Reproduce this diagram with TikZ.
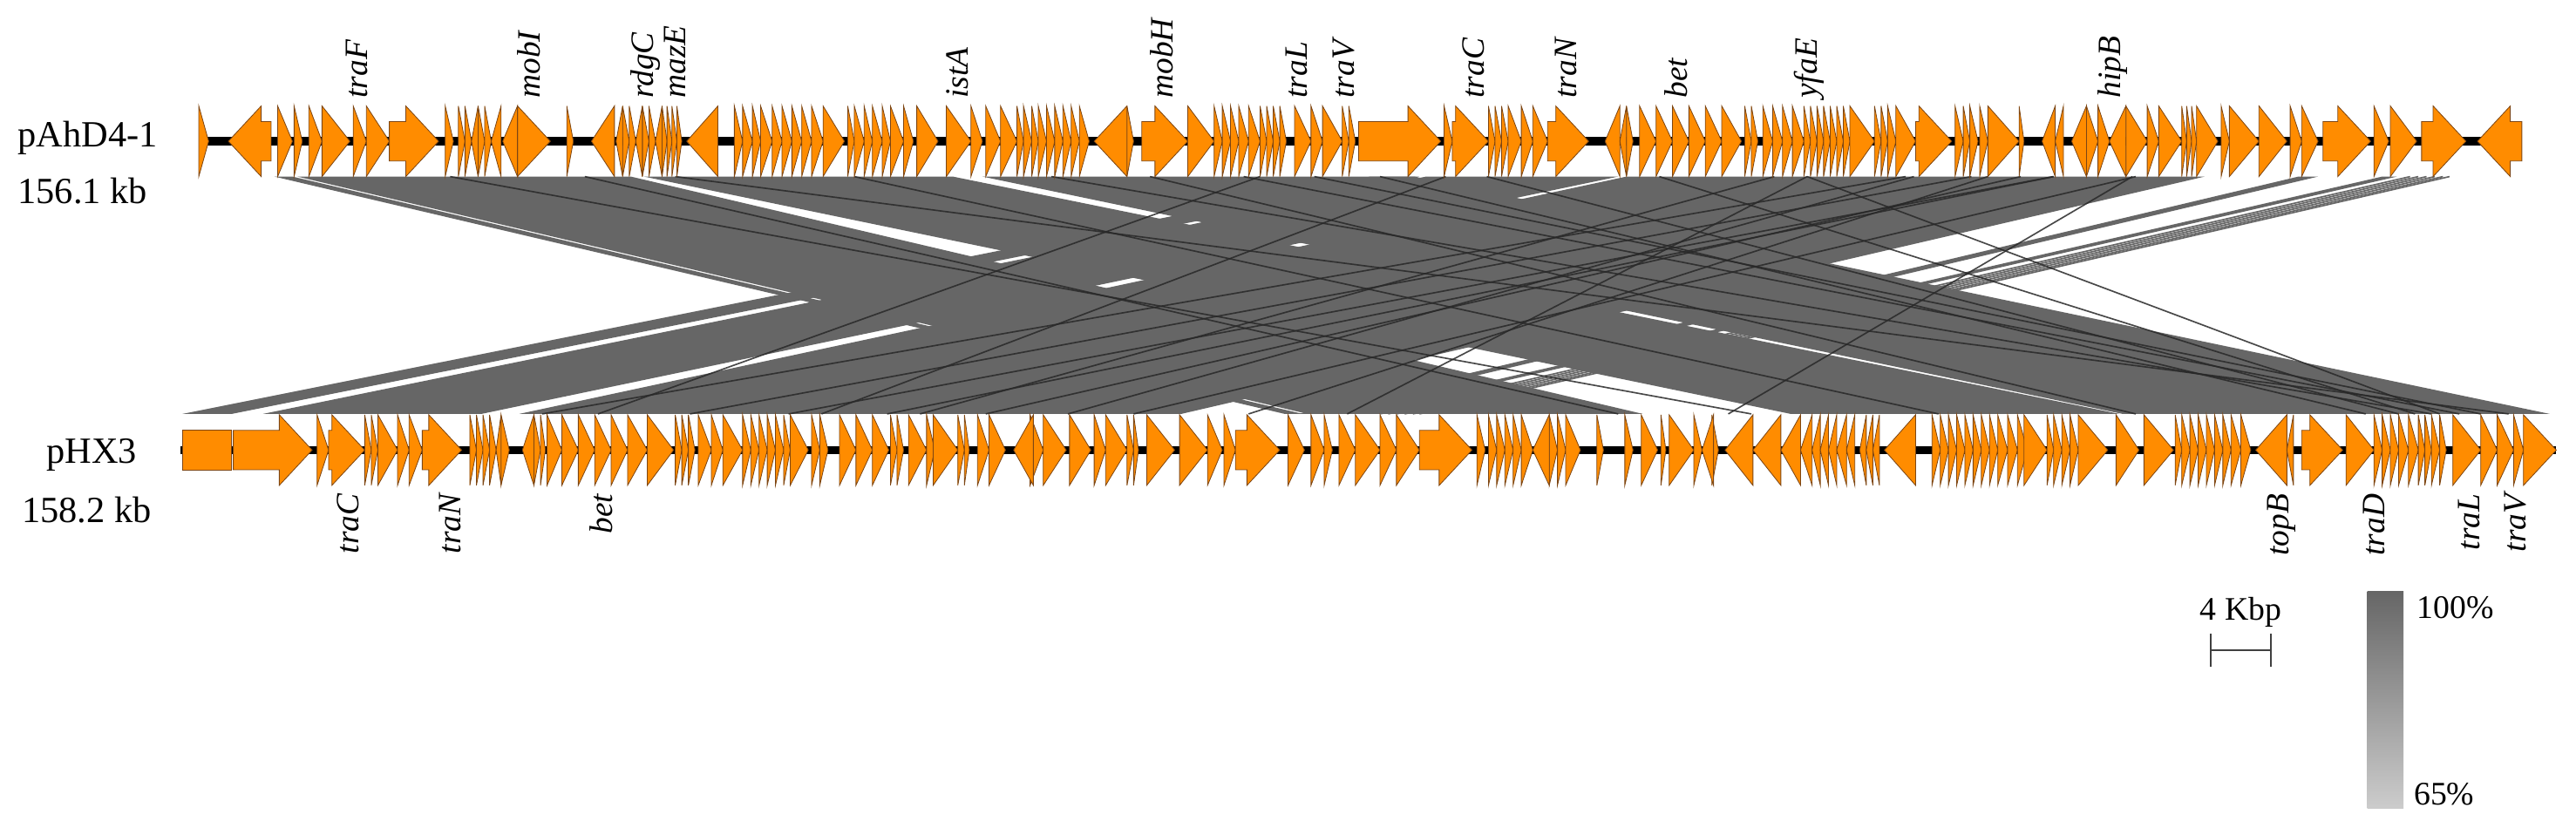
\documentclass[tikz,border=0pt]{standalone}
\usepackage{fontspec}
\setmainfont{Liberation Serif}
\usepackage{tikz}
\usetikzlibrary{positioning}
\definecolor{orf}{RGB}{255,140,0}
\definecolor{orfline}{RGB}{125,70,20}
\definecolor{hit}{RGB}{102,102,102}
\definecolor{hitdark}{RGB}{40,40,40}

% forward / reverse gene: start, end, track y (head 20 units)
\newcommand{\genef}[3]{%
  \pgfmathsetmacro{\headx}{max(#1,#2-20)}%
  \draw[gene] (#1,#3-12) -- (\headx,#3-12) -- (\headx,#3-21.5) -- (#2,#3) -- (\headx,#3+21.5) -- (\headx,#3+12) -- (#1,#3+12) -- cycle;}
\newcommand{\gener}[3]{%
  \pgfmathsetmacro{\headx}{min(#2,#1+20)}%
  \draw[gene] (#2,#3-12) -- (\headx,#3-12) -- (\headx,#3-21.5) -- (#1,#3) -- (\headx,#3+21.5) -- (\headx,#3+12) -- (#2,#3+12) -- cycle;}
% blastn hit: top start, top end, bottom start, bottom end
\newcommand{\hitband}[4]{%
  \fill[hit] (#1,107.5) -- (#2,107.5) -- (#4,252) -- (#3,252) -- cycle;}

\tikzset{
  gene/.style={fill=orf, draw=orfline, line width=0.25pt, line join=miter},
  backbone/.style={line width=2.8pt, black},
  gname/.style={font=\fontsize{11.3}{11.3}\selectfont\itshape, rotate=90, inner sep=0.5pt},
  pname/.style={font=\fontsize{12.8}{13}\selectfont, inner sep=0pt, anchor=base west},
  lname/.style={font=\fontsize{11.4}{12}\selectfont, inner sep=0pt},
  hitline/.style={hitdark, line width=0.5pt, opacity=0.85},
  scalebar/.style={black!75, line width=0.6pt}
}

\begin{document}
\begin{tikzpicture}[x=0.02cm, y=-0.02cm]
  \useasboundingbox (0,0) rectangle (1568,504);
  % comparison: two direct blocks crossing
  \hitband{167}{178}{782}{793}
  \hitband{181}{384}{796}{1000}
  \hitband{392}{580}{1090}{1290}
  \hitband{598}{861}{1292}{1552}
  \hitband{834}{864}{111}{141}
  \hitband{868}{985}{160}{293}
  \hitband{990}{1342}{316}{719}
  \hitband{1399}{1411}{790}{800}
  \hitband{1450}{1459}{820}{828}
  \foreach \t/\b in {1467/840,1472/845,1477/850,1482/855,1487/860,1491/864}
    \draw[hit, line width=0.5pt] (\t,107.5) -- (\b,252);
  % short hits (IS elements, repeats)
  \foreach \t/\b in {274/1066,356/985,411/1527,520/1180,640/1480,700/1300,757/1497,800/1510,
                     840/1440,905/1460,1010/1470,1100/1485,1160/330,1200/420,1250/480,1080/560,
                     1230/600,1165/650,1300/690,1210/760,1100/820,1298/1052,767/364,880/500,1250/540}
    \draw[hitline] (\t,107.5) -- (\b,252);

  % pAhD4-1
  \draw[backbone] (121,86) -- (1535,86);
  \foreach \a/\b in {121/127,169/178,179/184,188/196,196/213,215/223,223/237,237/267,
      271/276,279/283,283/287,291/295,295/299,315/335,345/349,
      379/383,383/387,391/395,395/399,403/406,406/409,409/412,412/415,
      447/452,452/458,458/463,463/470,470/476,476/482,482/488,488/494,494/501,501/514,
      516/520,520/526,526/531,531/537,537/542,542/550,550/556,558/571,576/591,591/598,
      600/609,609/619,619/623,623/628,628/632,632/637,637/642,642/647,647/652,652/657,657/663,
      686/690,695/723,723/739,739/744,744/749,749/754,754/760,760/767,
      767/771,771/775,775/779,779/783,788/798,798/805,805/817,817/821,821/825,827/877,
      879/884,884/906,906/910,910/914,914/918,918/926,926/933,933/942,942/967,
      990/994,998/1008,1008/1018,1018/1028,1028/1038,1038/1048,1048/1060,
      1062/1066,1066/1070,1073/1079,1079/1085,1085/1091,1091/1098,1098/1102,1102/1106,1106/1110,
      1110/1114,1114/1118,1118/1122,1122/1126,1126/1141,1141/1145,1145/1149,1149/1154,1154/1166,
      1166/1188,1190/1195,1195/1199,1199/1204,1205/1210,1210/1229,1229/1232,
      1270/1277,1277/1284,1294/1307,1307/1314,1314/1328,1328/1331,1331/1334,1334/1337,1337/1350,
      1352/1357,1357/1375,1375/1392,1394/1401,1401/1411,1414/1443,1445/1454,1455/1471,1474/1501}
    \genef{\a}{\b}{86};
  \foreach \a/\b in {139/165,287/291,299/305,306/315,360/374,375/379,387/391,399/403,418/437,
      666/686,977/986,986/990,1243/1251,1251/1256,1261/1270,1284/1294,1508/1535}
    \gener{\a}{\b}{86};

  % pHX3
  \draw[backbone] (110,274) -- (1556,274);
  \draw[gene] (111,262) rectangle (141,286);
  \foreach \a/\b in {142/190,193/200,200/222,222/226,226/230,230/242,242/249,249/257,257/281,
      286/290,290/294,294/298,298/302,305/310,325/329,329/332,333/342,342/352,352/362,362/372,
      372/382,382/394,394/410,411/415,415/419,419/423,425/433,433/440,440/452,452/457,457/462,
      462/467,467/472,472/477,477/481,481/492,494/499,499/504,
      511/521,521/531,531/541,542/546,546/550,553/564,564/569,568/583,583/587,587/590,595/602,602/612,
      627/635,635/649,651/664,666/673,673/686,686/690,690/693,698/715,718/735,735/744,745/752,752/779,
      784/794,798/806,806/811,815/825,825/840,840/850,850/864,864/896,899/904,906/911,911/916,
      916/921,921/926,926/933,943/948,948/953,953/962,972/976,989/994,999/1009,1011/1014,
      1016/1031,1031/1036,1042/1046,
      1176/1181,1181/1186,1186/1191,1191/1196,1196/1201,1201/1206,1206/1211,1211/1216,1216/1222,
      1222/1228,1228/1234,1232/1246,1246/1250,1250/1255,1255/1260,1260/1265,1265/1283,1288/1302,
      1305/1323,1324/1328,1328/1333,1333/1338,1338/1343,1343/1348,1348/1353,1353/1358,1358/1364,1364/1370,
      1401/1426,1428/1445,1445/1450,1450/1455,1455/1460,1460/1466,1466/1472,1472/1476,1476/1480,
      1480/1485,1485/1489,1493/1510,1510/1520,1520/1530,1530/1536,1536/1556}
    \genef{\a}{\b}{274};
  \foreach \a/\b in {302/305,318/325,617/629,933/943,1036/1043,1050/1067,1067/1084,1084/1096,
      1096/1103,1103/1108,1108/1113,1113/1118,1118/1124,1124/1129,1132/1136,1136/1140,1140/1144,
      1147/1166,1373/1392,1392/1396}
    \gener{\a}{\b}{274};

  % plasmid names
  \node[pname] (pa) at (10.5,89.5) {pAhD4-1};
  \node[pname] (pasize) at (10.5,123.7) {156.1 kb};
  \node[pname] (ph) at (28,282) {pHX3};
  \node[pname] (phsize) at (13,318) {158.2 kb};

  % gene names
  \foreach \n/\x in {traF/217,mobI/322,rdgC/393,mazE/411,istA/583,mobH/707,traL/789,traV/818,
                     traC/897,traN/953,bet/1020,yfaE/1101,hipB/1286}
    \node[gname, anchor=west] (top-\n) at (\x,61) {\n};
  \foreach \n/\x in {traC/212,traN/274,bet/366,topB/1389,traD/1445,traL/1503,traV/1531}
    \node[gname, anchor=east] (bot-\n) at (\x,299.5) {\n};

  % scale and identity legend
  \node[lname, anchor=base] (kbp) at (1364,377.5) {4 Kbp};
  \draw[scalebar] (1345.5,386) -- (1345.5,406) (1345.5,396) -- (1382,396) (1382,386) -- (1382,406);
  \shade[top color=hit, bottom color=black!20] (1441,360) rectangle (1463,492);
  \node[lname, anchor=base west] (hi) at (1471,376.7) {100\%};
  \node[lname, anchor=base west] (lo) at (1469,490) {65\%};
\end{tikzpicture}
\end{document}
